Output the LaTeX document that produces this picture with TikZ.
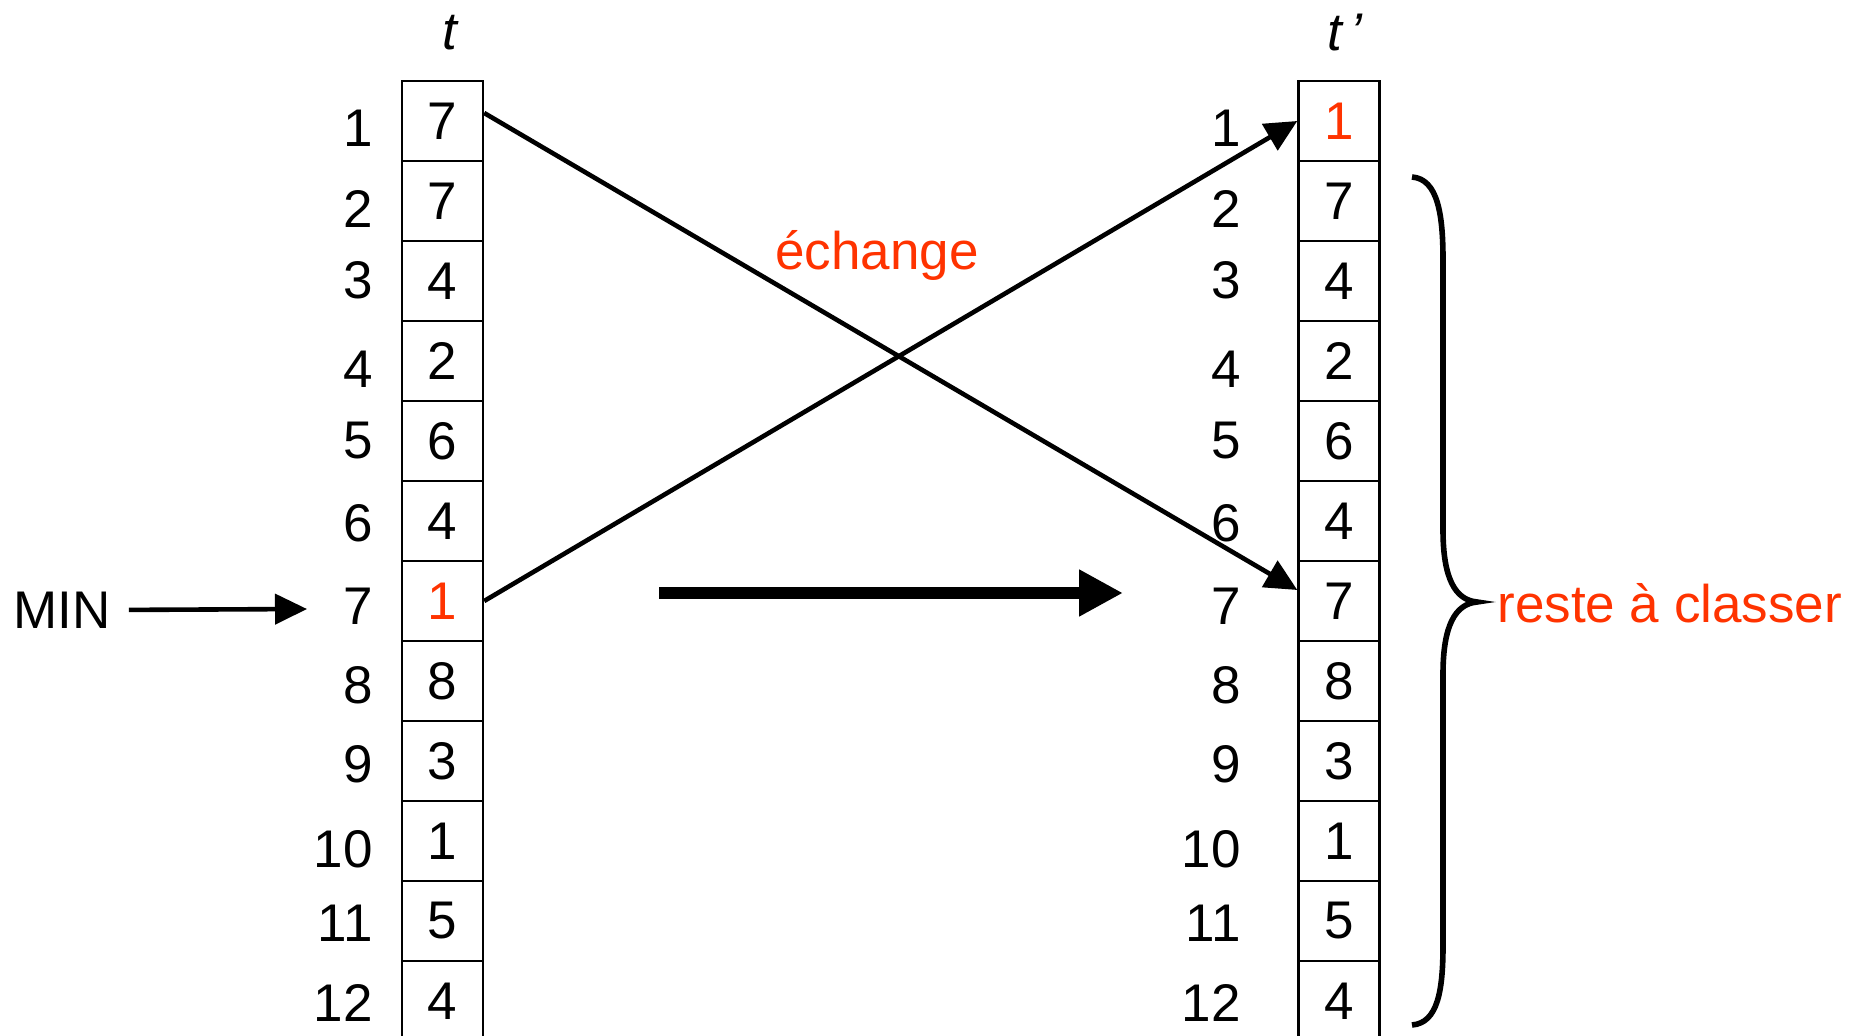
\documentclass[tikz,border=0pt]{standalone}
\usepackage{fontspec}
\setmainfont{Liberation Sans}
\usetikzlibrary{arrows.meta}
\definecolor{accent}{RGB}{255,51,0}
\begin{document}
\begin{tikzpicture}[x=0.5pt,y=-0.5pt,
  every node/.style={font=\fontsize{26.5}{30}\selectfont, inner sep=0pt},
  cell/.style={draw, line width=1.2pt, minimum width=40.5pt, minimum height=40pt},
  idx/.style={anchor=east},
  hot/.style={text=accent},
  thinarrow/.style={line width=2.3pt, -{Triangle[length=16pt,width=15pt]}},
  bigarrow/.style={line width=6pt, -{Triangle[length=22pt,width=22pt]}},
  bracestyle/.style={line width=2.8pt}]
\useasboundingbox (0,0) rectangle (1858,1036);

% column titles
\node (tt) at (450,33) {\itshape t};
\node (tp) at (1345,33) {\itshape t\,’};

% cells
\foreach \v/\c [count=\i] in {7/black,7/black,4/black,2/black,6/black,4/black,1/accent,8/black,3/black,1/black,5/black,4/black} {
  \node[cell, text=\c] (L\i) at (442.5,{121+80*(\i-1)}) {\v};
}
\foreach \v/\c [count=\i] in {1/accent,7/black,4/black,2/black,6/black,4/black,7/black,8/black,3/black,1/black,5/black,4/black} {
  \node[cell, text=\c] (R\i) at (1339,{121+80*(\i-1)}) {\v};
}

% indices
\foreach \y [count=\i] in {128,209,280,369,441,523,606,685,764,849,923,1003} {
  \node[idx] (li\i) at (373,\y) {\i};
  \node[idx] (ri\i) at (1241,\y) {\i};
}

% MIN
\node (min) at (62,610) {MIN};
\coordinate (mintip) at (307,609);
\draw[thinarrow, shorten <=9pt] (min.east) -- (mintip);

% exchange arrows
\draw[thinarrow] ([yshift=4pt]L1.east) -- ([yshift=5.5pt]R7.west);
\draw[thinarrow] (L7.east) -- (R1.west);
\node[hot, anchor=base] (ech) at (877,270) {échange};

% big arrow
\coordinate (bigA) at (659,593);
\coordinate (bigB) at (1123,593);
\draw[bigarrow] (bigA) -- (bigB);

% brace
\draw[bracestyle] (1412,177) .. controls (1438,179) and (1443,215) .. (1443,260)
  -- (1443,530) .. controls (1443,578) and (1455,600) .. (1477,602)
  .. controls (1455,604) and (1443,626) .. (1443,674)
  -- (1443,945) .. controls (1443,990) and (1438,1023) .. (1412,1025);
\node[hot, anchor=base west] (reste) at (1497,623) {reste à classer};
\end{tikzpicture}
\end{document}
